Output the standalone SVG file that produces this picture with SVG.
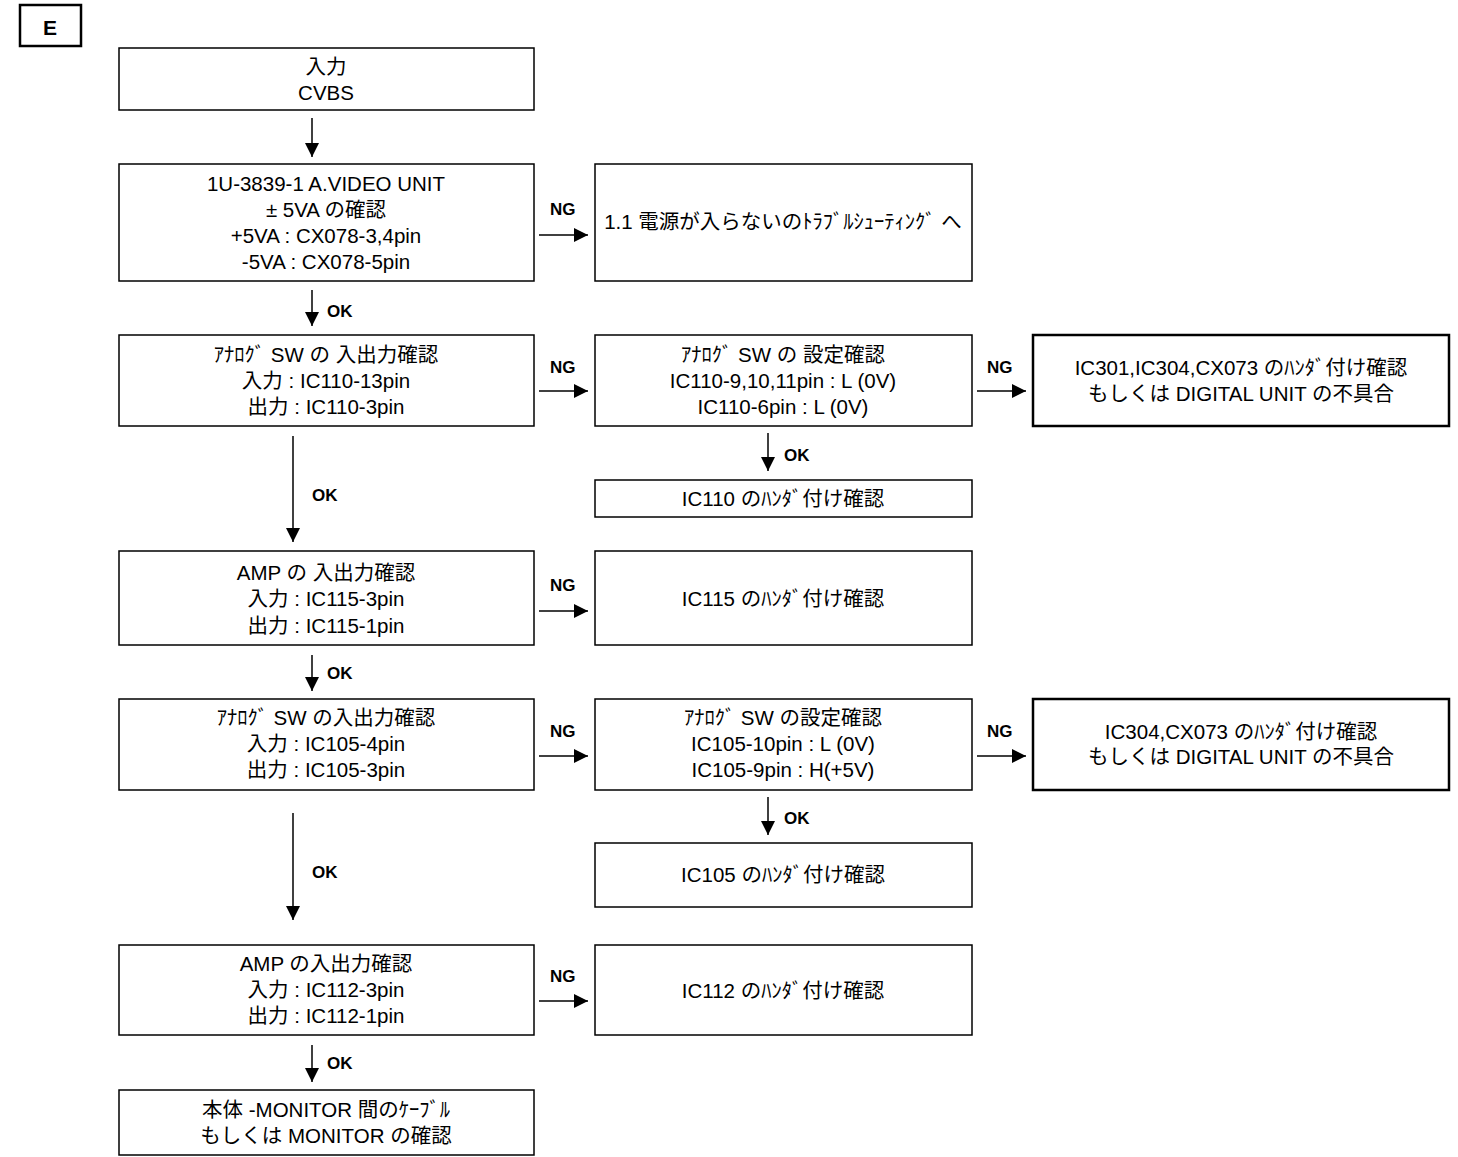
<svg xmlns="http://www.w3.org/2000/svg" width="1458" height="1157" viewBox="0 0 1458 1157">
<defs>
<style>
.box{fill:#fff;stroke:#000;stroke-width:1.5}
.thick{fill:#fff;stroke:#000;stroke-width:2.5}
.t{font-family:"Liberation Sans","Noto Sans CJK JP",sans-serif;font-size:20.5px;fill:#000;text-anchor:middle;dominant-baseline:central}
.lbl{font-family:"Liberation Sans","Noto Sans CJK JP",sans-serif;font-size:17px;font-weight:bold;fill:#000;dominant-baseline:central}
.conn{stroke:#000;stroke-width:1.5;fill:none;marker-end:url(#ah)}
</style>
<marker id="ah" markerUnits="userSpaceOnUse" markerWidth="14" markerHeight="14" refX="14" refY="7" orient="auto">
<path d="M0,0 L14,7 L0,14 z" fill="#000"/>
</marker>
</defs>
<rect width="1458" height="1157" fill="#fff"/>
<g id="label-E">
<rect class="thick" x="20" y="5" width="61" height="41"/>
<text class="lbl" x="50" y="27" text-anchor="middle" style="font-size:21px">E</text>
</g>
<g id="n-input">
<rect class="box" x="119" y="48" width="415" height="62"/>
<text class="t" x="326" y="66">入力</text>
<text class="t" x="326" y="92">CVBS</text>
</g>
<g id="n-power">
<rect class="box" x="119" y="164" width="415" height="117"/>
<text class="t" x="326" y="183">1U-3839-1 A.VIDEO UNIT</text>
<text class="t" x="326" y="209">± 5VA の確認</text>
<text class="t" x="326" y="235">+5VA : CX078-3,4pin</text>
<text class="t" x="326" y="261">-5VA : CX078-5pin</text>
</g>
<g id="n-power-ng">
<rect class="box" x="595" y="164" width="377" height="117"/>
<text class="t" x="783" y="221">1.1 電源が入らないのﾄﾗﾌﾞﾙｼｭｰﾃｨﾝｸﾞ へ</text>
</g>
<g id="n-sw1">
<rect class="box" x="119" y="335" width="415" height="91"/>
<text class="t" x="326" y="354">ｱﾅﾛｸﾞ SW の 入出力確認</text>
<text class="t" x="326" y="380">入力 : IC110-13pin</text>
<text class="t" x="326" y="406">出力 : IC110-3pin</text>
</g>
<g id="n-sw1-set">
<rect class="box" x="595" y="335" width="377" height="91"/>
<text class="t" x="783" y="354">ｱﾅﾛｸﾞ SW の 設定確認</text>
<text class="t" x="783" y="380">IC110-9,10,11pin : L (0V)</text>
<text class="t" x="783" y="406">IC110-6pin : L (0V)</text>
</g>
<g id="n-sw1-digital">
<rect class="thick" x="1033" y="335" width="416" height="91"/>
<text class="t" x="1241" y="367">IC301,IC304,CX073 のﾊﾝﾀﾞ付け確認</text>
<text class="t" x="1241" y="393">もしくは DIGITAL UNIT の不具合</text>
</g>
<g id="n-ic110">
<rect class="box" x="595" y="480" width="377" height="37"/>
<text class="t" x="783" y="498">IC110 のﾊﾝﾀﾞ付け確認</text>
</g>
<g id="n-amp1">
<rect class="box" x="119" y="551" width="415" height="94"/>
<text class="t" x="326" y="572">AMP の 入出力確認</text>
<text class="t" x="326" y="598">入力 : IC115-3pin</text>
<text class="t" x="326" y="625">出力 : IC115-1pin</text>
</g>
<g id="n-ic115">
<rect class="box" x="595" y="551" width="377" height="94"/>
<text class="t" x="783" y="598">IC115 のﾊﾝﾀﾞ付け確認</text>
</g>
<g id="n-sw2">
<rect class="box" x="119" y="699" width="415" height="91"/>
<text class="t" x="326" y="717">ｱﾅﾛｸﾞ SW の入出力確認</text>
<text class="t" x="326" y="743">入力 : IC105-4pin</text>
<text class="t" x="326" y="769">出力 : IC105-3pin</text>
</g>
<g id="n-sw2-set">
<rect class="box" x="595" y="699" width="377" height="91"/>
<text class="t" x="783" y="717">ｱﾅﾛｸﾞ SW の設定確認</text>
<text class="t" x="783" y="743">IC105-10pin : L (0V)</text>
<text class="t" x="783" y="769">IC105-9pin : H(+5V)</text>
</g>
<g id="n-sw2-digital">
<rect class="thick" x="1033" y="699" width="416" height="91"/>
<text class="t" x="1241" y="731">IC304,CX073 のﾊﾝﾀﾞ付け確認</text>
<text class="t" x="1241" y="756">もしくは DIGITAL UNIT の不具合</text>
</g>
<g id="n-ic105">
<rect class="box" x="595" y="843" width="377" height="64"/>
<text class="t" x="783" y="874">IC105 のﾊﾝﾀﾞ付け確認</text>
</g>
<g id="n-amp2">
<rect class="box" x="119" y="945" width="415" height="90"/>
<text class="t" x="326" y="963">AMP の入出力確認</text>
<text class="t" x="326" y="989">入力 : IC112-3pin</text>
<text class="t" x="326" y="1015">出力 : IC112-1pin</text>
</g>
<g id="n-ic112">
<rect class="box" x="595" y="945" width="377" height="90"/>
<text class="t" x="783" y="990">IC112 のﾊﾝﾀﾞ付け確認</text>
</g>
<g id="n-monitor">
<rect class="box" x="119" y="1090" width="415" height="65"/>
<text class="t" x="326" y="1109">本体 -MONITOR 間のｹｰﾌﾞﾙ</text>
<text class="t" x="326" y="1135">もしくは MONITOR の確認</text>
</g>
<g id="connectors">
<line class="conn" x1="312" y1="118" x2="312" y2="157"/>
<line class="conn" x1="312" y1="290" x2="312" y2="326"/>
<line class="conn" x1="293" y1="436" x2="293" y2="542"/>
<line class="conn" x1="768" y1="433" x2="768" y2="471"/>
<line class="conn" x1="312" y1="655" x2="312" y2="691"/>
<line class="conn" x1="293" y1="813" x2="293" y2="920"/>
<line class="conn" x1="768" y1="797" x2="768" y2="835"/>
<line class="conn" x1="312" y1="1045" x2="312" y2="1082"/>
<line class="conn" x1="539" y1="235" x2="588" y2="235"/>
<line class="conn" x1="539" y1="391" x2="588" y2="391"/>
<line class="conn" x1="977" y1="391" x2="1026" y2="391"/>
<line class="conn" x1="539" y1="611" x2="588" y2="611"/>
<line class="conn" x1="539" y1="756" x2="588" y2="756"/>
<line class="conn" x1="977" y1="756" x2="1026" y2="756"/>
<line class="conn" x1="539" y1="1001" x2="588" y2="1001"/>
<text class="lbl" x="327" y="311">OK</text>
<text class="lbl" x="312" y="495">OK</text>
<text class="lbl" x="784" y="455">OK</text>
<text class="lbl" x="327" y="673">OK</text>
<text class="lbl" x="312" y="872">OK</text>
<text class="lbl" x="784" y="818">OK</text>
<text class="lbl" x="327" y="1063">OK</text>
<text class="lbl" x="550" y="209">NG</text>
<text class="lbl" x="550" y="367">NG</text>
<text class="lbl" x="987" y="367">NG</text>
<text class="lbl" x="550" y="585">NG</text>
<text class="lbl" x="550" y="731">NG</text>
<text class="lbl" x="987" y="731">NG</text>
<text class="lbl" x="550" y="976">NG</text>
</g>
</svg>
